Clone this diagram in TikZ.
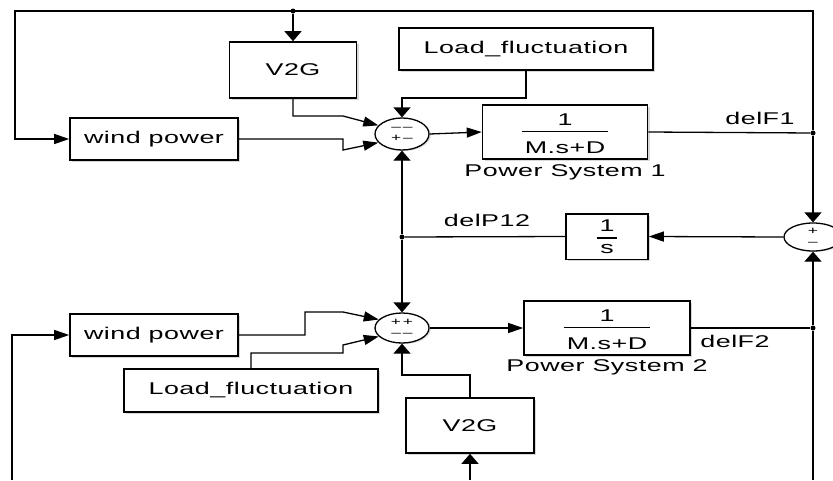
\documentclass[tikz,border=0pt]{standalone}
\usepackage{fontspec}
\newfontfamily\slk[FakeStretch=1.58,LetterSpace=3]{Liberation Sans}
\usepackage{tikz}
\usetikzlibrary{arrows.meta, positioning, calc, shapes.geometric, shadows}
\setlength{\arrayrulewidth}{1.2pt}

\begin{document}
\begin{tikzpicture}[x=1pt,y=-1pt,
  blk/.style={draw, line width=1.6pt, fill=white, inner sep=0pt,
    font=\slk\fontsize{17}{19}\selectfont,
    drop shadow={shadow xshift=2pt,shadow yshift=-2pt,fill=black!30}},
  sumj/.style={draw, ellipse, line width=1.3pt, fill=white, inner sep=0pt,
    minimum width=54pt, minimum height=32pt, align=center,
    font=\slk\fontsize{11}{11}\selectfont,
    drop shadow={shadow xshift=2pt,shadow yshift=-1pt,fill=black!25}},
  lbl/.style={font=\slk\fontsize{17}{19}\selectfont, inner sep=1pt},
  ln/.style={line width=1.3pt},
  ha/.style={ln, -{Triangle[length=15pt,width=10pt]}},
  va/.style={ln, -{Triangle[length=10pt,width=17pt]}},
  dot/.style={circle, fill, inner sep=0pt, minimum size=5pt}]
  \useasboundingbox (0,0) rectangle (833,480);

  % upper area
  \node[blk, minimum width=127pt, minimum height=56pt] (v2gA) at (293,70) {V2G};
  \node[blk, minimum width=254pt, minimum height=42pt] (loadA) at (526,49) {Load\_fluctuation};
  \node[blk, minimum width=168pt, minimum height=42pt] (windA) at (154,139) {wind power};
  \node[sumj] (sumA) at (402,134) {–\,–\\+\,–};
  \node[blk, minimum width=165pt, minimum height=50pt] (psA) at (565,132)
    {\begin{tabular}{@{\hspace{3pt}}c@{\hspace{3pt}}}\rule[-6pt]{0pt}{26pt}1\\\hline\rule[-3pt]{0pt}{24pt}M.s+D\end{tabular}};
  \node[lbl, below=4pt of psA] (psAname) {Power System 1};
  \node[lbl] (dF1) at (760,118) {delF1};

  % tie line
  \node[sumj, minimum width=58pt, minimum height=28pt] (sumC) at (813,237) {+\\–};
  \node[blk, minimum width=82pt, minimum height=43pt] (intg) at (607,236.5)
    {\begin{tabular}{@{\hspace{3pt}}c@{\hspace{3pt}}}\rule[-3pt]{0pt}{21pt}1\\\hline\rule[-5pt]{0pt}{20pt}s\end{tabular}};
  \node[lbl] (dP12) at (487,220) {delP12};

  % lower area
  \node[sumj, minimum height=30pt] (sumB) at (402,328) {+\,+\\–\,–};
  \node[blk, minimum width=168pt, minimum height=42pt] (windB) at (154,335) {wind power};
  \node[blk, minimum width=254pt, minimum height=43pt] (loadB) at (251,390.5) {Load\_fluctuation};
  \node[blk, minimum width=128pt, minimum height=55pt] (v2gB) at (470,425.5) {V2G};
  \node[blk, minimum width=166pt, minimum height=50pt] (psB) at (607,328)
    {\begin{tabular}{@{\hspace{3pt}}c@{\hspace{3pt}}}\rule[-6pt]{0pt}{26pt}1\\\hline\rule[-3pt]{0pt}{24pt}M.s+D\end{tabular}};
  \node[lbl, below=3pt of psB] (psBname) {Power System 2};
  \node[lbl] (dF2) at (735,341) {delF2};

  % junctions and corners
  \node[dot] (jA) at (813,133) {};
  \node[dot] (jT) at (293,11) {};
  \node[dot] (jB) at (402,237) {};
  \node[dot] (jC) at (813,328) {};
  \coordinate (cTL) at (15,11);
  \coordinate (kA) at (343,116);
  \coordinate (kB) at (402,98);
  \coordinate (bR) at (813,480);
  \coordinate (bL) at (12,480);
  \coordinate (bV) at (470,480);

  % area 1 signals
  \draw[ln] (psA.east) -- (jA);
  \draw[ha] (jA) |- (cTL) |- (windA.west);
  \draw[va] (jT) -- (v2gA.north);
  \draw[va] (jA) -- (sumC.north);
  \draw[ha] (v2gA.south) |- (kA) -- (sumA.160);
  \draw[ha] (windA.east) -- (343,139) -- (343,150) -- (sumA.200);
  \draw[va] (loadA.south) |- (kB) -- (sumA.north);
  \draw[ha] (sumA.east) -- (psA.west);

  % tie line signals
  \draw[ha] (sumC.west) -- (intg.east);
  \draw[ln] (intg.west) -- (jB);
  \draw[va] (jB) -- (sumA.south);
  \draw[va] (jB) -- (sumB.north);

  % area 2 signals
  \draw[ha] (sumB.east) -- (psB.west);
  \draw[ln] (psB.east) -- (jC);
  \draw[va] (jC) -- (sumC.south);
  \draw[ln] (jC) -- (bR);
  \draw[ha] (bL) |- (windB.west);
  \draw[ha] (windB.east) -- (305,335) -- (305,312) -- (343,312) -- (sumB.160);
  \draw[ha] (loadB.north) |- (343,353) -- (343,345) -- (sumB.200);
  \draw[va] (v2gB.north) |- (402,375) -- (sumB.south);
  \draw[va] (bV) -- (v2gB.south);
\end{tikzpicture}
\end{document}
